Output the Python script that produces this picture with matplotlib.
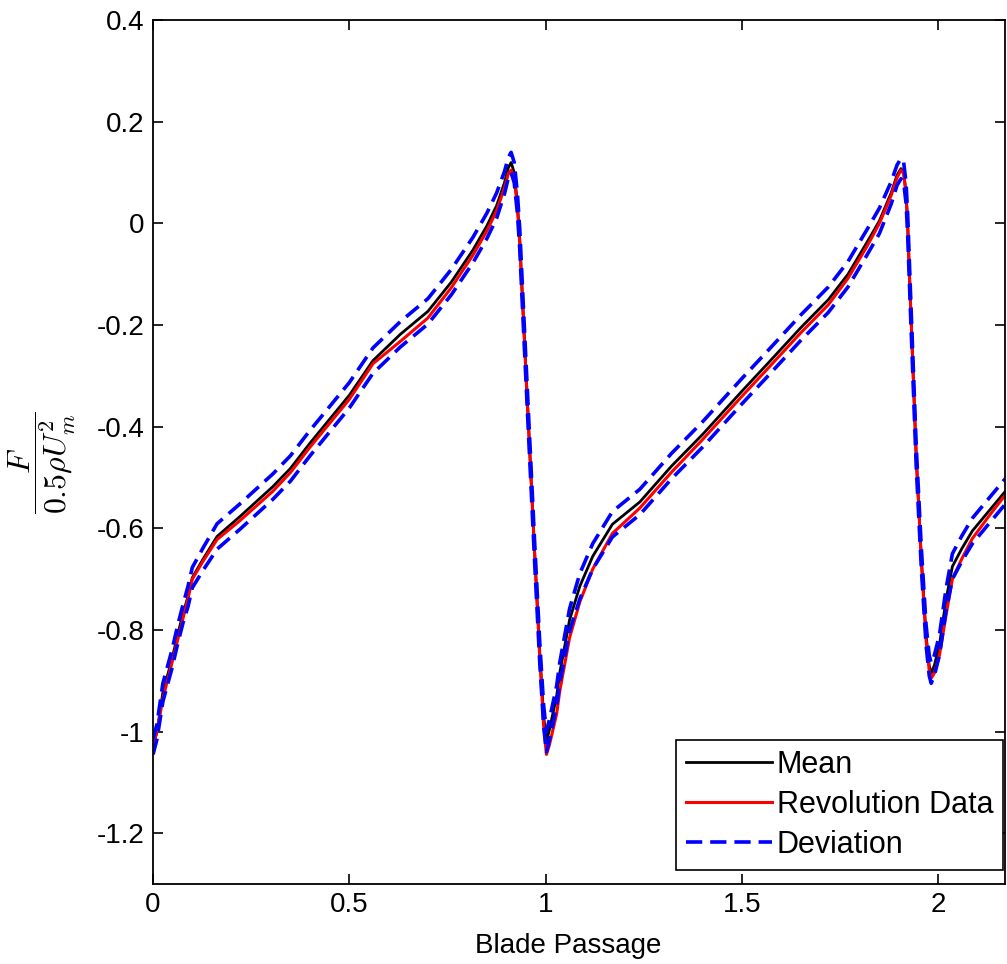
import matplotlib
matplotlib.use("Agg")
import matplotlib.pyplot as plt
from matplotlib.ticker import FixedLocator, FixedFormatter

plt.rcParams['font.family'] = ['Liberation Sans', 'DejaVu Sans']
plt.rcParams['mathtext.fontset'] = 'cm'
plt.rcParams['axes.unicode_minus'] = False

# ---------------- blade passage force data ----------------
# x: blade passage, mean: average over revolutions,
# rev: one revolution, dev: spread about the mean
x = [0.000, 0.010, 0.025, 0.048, 0.064, 0.077, 0.089, 0.100, 0.127, 0.163,
     0.221, 0.305, 0.350, 0.400, 0.450, 0.500, 0.560, 0.630, 0.700, 0.760,
     0.815, 0.850, 0.875, 0.895, 0.905, 0.912, 0.920, 0.928, 0.934, 0.942,
     0.956, 0.972, 0.985, 0.995, 1.002, 1.010, 1.028, 1.036, 1.061, 1.087,
     1.120, 1.170, 1.240, 1.320, 1.400, 1.500, 1.570, 1.650, 1.720, 1.770,
     1.820, 1.850, 1.880, 1.895, 1.905, 1.912, 1.918, 1.922, 1.930, 1.944,
     1.957, 1.969, 1.977, 1.982, 1.990, 2.003, 2.020, 2.036, 2.060, 2.087,
     2.130, 2.170]

mean = [-1.030, -1.000, -0.923, -0.858, -0.805, -0.766, -0.734, -0.697, -0.661, -0.616,
        -0.577, -0.518, -0.482, -0.432, -0.385, -0.338, -0.270, -0.218, -0.173, -0.115,
        -0.052, -0.005, 0.035, 0.080, 0.110, 0.120, 0.100, 0.040, -0.030, -0.163,
        -0.390, -0.648, -0.845, -0.970, -1.020, -0.995, -0.930, -0.884, -0.780, -0.714,
        -0.655, -0.592, -0.548, -0.478, -0.415, -0.330, -0.272, -0.205, -0.150, -0.100,
        -0.035, 0.005, 0.060, 0.095, 0.108, 0.100, 0.060, 0.000, -0.170, -0.460,
        -0.660, -0.810, -0.870, -0.885, -0.870, -0.830, -0.740, -0.675, -0.640, -0.605,
        -0.565, -0.528]

rev = [-1.025, -1.000, -0.935, -0.865, -0.815, -0.775, -0.738, -0.700, -0.665, -0.622,
       -0.585, -0.527, -0.490, -0.440, -0.393, -0.346, -0.276, -0.232, -0.186, -0.126,
       -0.062, -0.015, 0.025, 0.070, 0.098, 0.105, 0.090, 0.030, -0.040, -0.170,
       -0.395, -0.650, -0.855, -0.990, -1.045, -1.025, -0.965, -0.920, -0.815, -0.745,
       -0.680, -0.610, -0.560, -0.490, -0.425, -0.340, -0.282, -0.215, -0.160, -0.108,
       -0.043, 0.000, 0.055, 0.090, 0.105, 0.098, 0.058, 0.000, -0.170, -0.460,
       -0.665, -0.820, -0.880, -0.895, -0.885, -0.850, -0.770, -0.700, -0.660, -0.620,
       -0.575, -0.535]

dev = [0.015, 0.015, 0.018, 0.018, 0.018, 0.018, 0.020, 0.020, 0.022, 0.025,
       0.025, 0.025, 0.025, 0.025, 0.025, 0.025, 0.025, 0.025, 0.025, 0.025,
       0.025, 0.025, 0.025, 0.022, 0.020, 0.020, 0.020, 0.020, 0.020, 0.020,
       0.020, 0.020, 0.020, 0.020, 0.020, 0.020, 0.020, 0.020, 0.022, 0.025,
       0.025, 0.025, 0.025, 0.025, 0.025, 0.025, 0.025, 0.025, 0.025, 0.025,
       0.025, 0.025, 0.022, 0.020, 0.020, 0.020, 0.020, 0.020, 0.020, 0.020,
       0.020, 0.020, 0.020, 0.020, 0.020, 0.020, 0.022, 0.025, 0.025, 0.025,
       0.025, 0.025]

xticks = [0, 0.5, 1, 1.5, 2]
xtick_labels = ['0', '0.5', '1', '1.5', '2']
yticks = [-1.2, -1.0, -0.8, -0.6, -0.4, -0.2, 0.0, 0.2, 0.4]
ytick_labels = ['-1.2', '-1', '-0.8', '-0.6', '-0.4', '-0.2', '0', '0.2', '0.4']

upper = [m + d for m, d in zip(mean, dev)]
lower = [m - d for m, d in zip(mean, dev)]

# ---------------- figure ----------------
fig = plt.figure(figsize=(10.07, 9.64), dpi=100)
ax = fig.add_axes([0.152, 0.083, 0.846, 0.896])

ax.plot(x, mean, color='k', lw=2.0, label='Mean')
ax.plot(x, rev, color='r', lw=2.2, label='Revolution Data')
ax.plot(x, upper, color='b', lw=2.6, ls=(0, (4.5, 2.2)), label='Deviation')
ax.plot(x, lower, color='b', lw=2.6, ls=(0, (4.5, 2.2)))

ax.set_xlim(0, 2.17)
ax.set_ylim(-1.3, 0.4)
ax.xaxis.set_major_locator(FixedLocator(xticks))
ax.xaxis.set_major_formatter(FixedFormatter(xtick_labels))
ax.yaxis.set_major_locator(FixedLocator(yticks))
ax.yaxis.set_major_formatter(FixedFormatter(ytick_labels))

ax.tick_params(direction='in', length=7, width=1.2, top=True, right=True,
               labelsize=20, pad=6, colors='k')
for s in ax.spines.values():
    s.set_linewidth(1.3)

ax.set_xlabel('Blade Passage', fontsize=20)
ax.xaxis.set_label_coords(0.487, -0.057)
ax.set_ylabel(r'$\dfrac{F}{0.5\rho U_m^2}$', fontsize=23)
ax.yaxis.label.set_va('center')
ax.yaxis.set_label_coords(-0.130, 0.488)

leg = ax.legend(loc='lower right', bbox_to_anchor=(0.998, 0.016), fontsize=22,
                fancybox=False, framealpha=1, edgecolor='k', handlelength=2.8,
                handletextpad=0.16, labelspacing=0.33, borderpad=0.33,
                borderaxespad=0)
leg.get_frame().set_linewidth(1.2)

fig.savefig('out.png', dpi=100)
